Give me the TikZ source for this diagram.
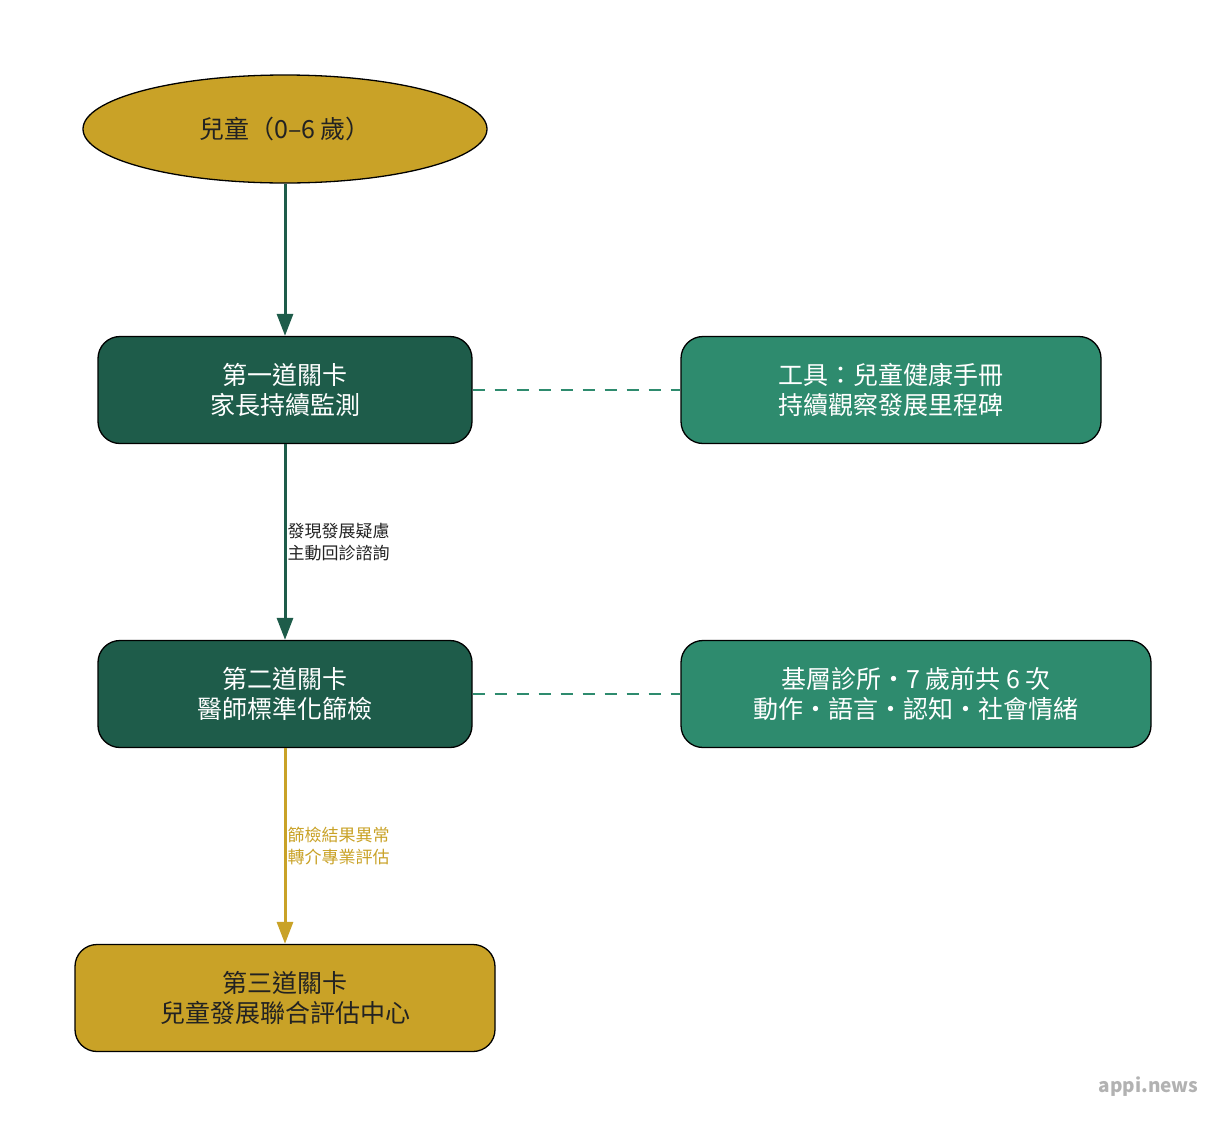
\documentclass[tikz,border=0pt]{standalone}
\usepackage{fontspec}
\setmainfont{Noto Sans CJK TC}
\usetikzlibrary{shapes.geometric,arrows.meta}
\definecolor{gold}{HTML}{C9A227}
\definecolor{dgreen}{HTML}{1E5C4A}
\definecolor{mgreen}{HTML}{2E8B6E}
\definecolor{ink}{HTML}{222222}
\tikzset{
  box/.style = {draw=black,line width=1.3pt,rounded corners=22pt,minimum height=107pt,align=center,font=\fontsize{25}{30}\selectfont},
  gatebox/.style = {box,fill=dgreen,text=white,minimum width=374pt},
  note/.style = {box,fill=mgreen,text=white},
  flow/.style = {line width=3pt,-{Triangle[length=22pt,width=16pt]}},
  link/.style = {line width=1.5pt,mgreen,dash pattern=on 12pt off 10pt},
  elabel/.style = {anchor=west,align=left,font=\fontsize{17}{22}\selectfont,inner sep=1pt}
}
\begin{document}
\begin{tikzpicture}[x=1pt,y=-1pt]
\useasboundingbox (0,0) rectangle (1227,1128);

\node (kid) [ellipse,draw=black,line width=1.3pt,fill=gold,text=ink,minimum width=404pt,minimum height=108pt,font=\fontsize{25}{30}\selectfont] at (285,129) {兒童（0–6 歲）};
\node (gate1) [gatebox] at (285,390) {第一道關卡\\家長持續監測};
\node (tool1) [note,minimum width=420pt] at (891,390) {工具：兒童健康手冊\\持續觀察發展里程碑};
\node (gate2) [gatebox] at (285,694) {第二道關卡\\醫師標準化篩檢};
\node (tool2) [note,minimum width=470pt] at (916,694) {基層診所・7 歲前共 6 次\\動作・語言・認知・社會情緒};
\node (gate3) [box,fill=gold,text=ink,minimum width=420pt] at (285,998) {第三道關卡\\兒童發展聯合評估中心};

\draw [flow,dgreen] (kid) -- (gate1);
\draw [flow,dgreen] (gate1) -- node [elabel,text=ink] {發現發展疑慮\\主動回診諮詢} (gate2);
\draw [flow,gold] (gate2) -- node [elabel,text=gold] {篩檢結果異常\\轉介專業評估} (gate3);
\draw [link] (gate1) -- (tool1);
\draw [link] (gate2) -- (tool2);

\node (brand) [anchor=east,text=black!30,font=\fontsize{19}{22}\selectfont\bfseries] at (1202,1087) {appi.news};
\end{tikzpicture}
\end{document}
